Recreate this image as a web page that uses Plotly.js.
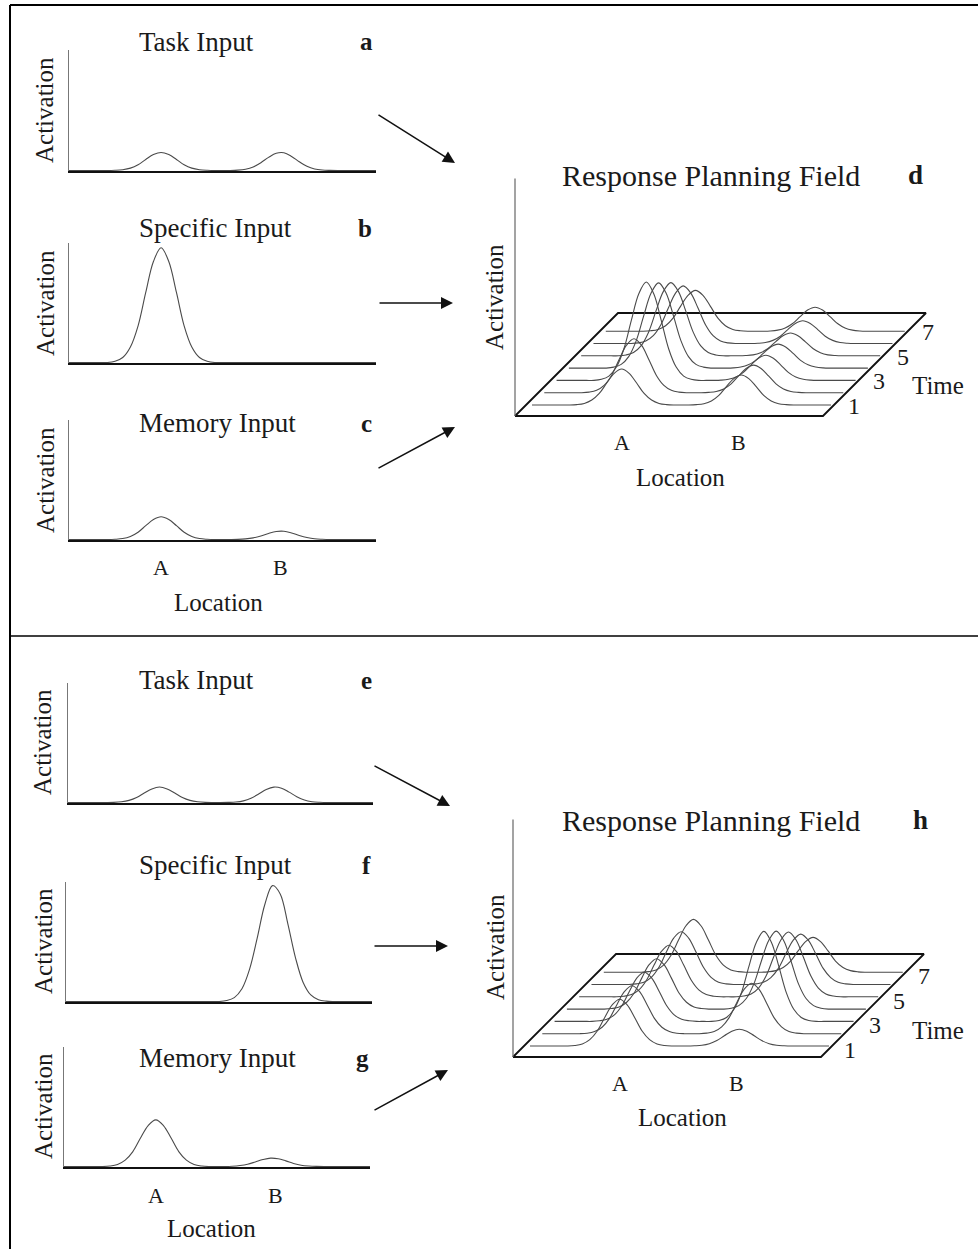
<!DOCTYPE html>
<html>
<head>
<meta charset="utf-8">
<script src="https://cdn.plot.ly/plotly-3.0.1.min.js"></script>
<style>
html,body{margin:0;padding:0;background:#fff;}
#chart{width:978px;height:1249px;}
</style>
</head>
<body>
<div id="chart"></div>
<script>
// ---------------- DATA ----------------
// Location grid (arbitrary units, 0..100, step 2.5) shared by all curves
const LOC = [0,2.5,5,7.5,10,12.5,15,17.5,20,22.5,25,27.5,30,32.5,35,37.5,40,42.5,45,47.5,
             50,52.5,55,57.5,60,62.5,65,67.5,70,72.5,75,77.5,80,82.5,85,87.5,90,92.5,95,97.5,100];
const LOC_TICKS = [30, 69];
const LOC_TICK_TEXT = ['A', 'B'];

// Input curves (activation; 1 = full height of the small axis)
const TASK_TOP = [0,0,0,0,0,0, 0.002,0.007,0.02,0.048,0.092,0.132,0.15,0.132,0.092,0.048,0.02,0.007,0.002, 0,0,0,
                  0.003,0.011,0.03,0.065,0.109,0.143,0.147,0.117,0.073,0.035,0.013,0.004,0.001, 0,0,0,0,0,0];
const SPEC_TOP = [0,0,0,0,0,0, 0.011,0.042,0.13,0.307,0.586,0.845,0.96,0.845,0.586,0.307,0.13,0.042,0.011, 0,0,0,
                  0,0,0,0,0,0,0,0,0,0,0,0,0, 0,0,0,0,0,0];
const MEM_TOP  = [0,0,0,0,0,0, 0.002,0.008,0.026,0.061,0.116,0.167,0.19,0.167,0.116,0.061,0.026,0.008,0.002, 0,0,0,
                  0.001,0.005,0.014,0.03,0.051,0.067,0.069,0.055,0.034,0.017,0.006,0.002,0, 0,0,0,0,0,0];
const TASK_BOT = [0,0,0,0,0,0, 0.001,0.006,0.018,0.042,0.079,0.114,0.13,0.114,0.079,0.042,0.018,0.006,0.001, 0,0,
                  0.001,0.004,0.014,0.036,0.071,0.109,0.129,0.12,0.087,0.049,0.021,0.007,0.002, 0,0,0,0,0,0,0];
const SPEC_BOT = [0,0,0,0,0,0,0,0,0,0,0,0,0,0,0,0,0,0,0,0,0,
                  0.008,0.033,0.107,0.271,0.532,0.814,0.97,0.9,0.65,0.366,0.16,0.055,0.015,0.003, 0,0,0,0,0,0];
const MEM_BOT  = [0,0,0,0,0,0, 0.004,0.017,0.053,0.125,0.238,0.343,0.39,0.343,0.238,0.125,0.053,0.017,0.004, 0,0,0,
                  0.002,0.008,0.019,0.038,0.058,0.07,0.065,0.047,0.026,0.011,0.004,0.001, 0,0,0,0,0,0,0];

// Response planning field, A trial (panel d), time steps 1..7
const TIMES = [1,2,3,4,5,6,7];
const TIME_LABELS = [1,3,5,7];
const FIELD_D_T1 = [0,0,0,0,0,0, .003,.013,.041,.096,.183,.264,.30,.264,.183,.096,.041,.013,.003, 0,0,0,
                    .003,.011,.034,.08,.153,.22,.25,.22,.153,.08,.034,.011,.003, 0,0,0,0,0,0];
const FIELD_D_T2 = [0,0,0,0,0,0, .005,.02,.061,.144,.275,.396,.45,.396,.275,.144,.061,.02,.005, 0,0,0,
                    .003,.01,.031,.074,.14,.202,.23,.202,.14,.074,.031,.01,.003, 0,0,0,0,0,0];
const FIELD_D_T3 = [0,0,0,0,0,0, .009,.036,.111,.262,.5,.722,.82,.722,.5,.262,.111,.036,.009, 0,0,0,
                    .002,.009,.028,.067,.128,.185,.21,.185,.128,.067,.028,.009,.002, 0,0,0,0,0,0];
const FIELD_D_T4 = [0,0,0,0,0,0, .008,.031,.096,.227,.433,.625,.71,.625,.433,.227,.096,.031,.008, 0,0,0,
                    .002,.009,.027,.064,.122,.176,.20,.176,.122,.064,.027,.009,.002, 0,0,0,0,0,0];
const FIELD_D_T5 = [0,0,0,0,0,0, .007,.027,.082,.195,.372,.537,.61,.537,.372,.195,.082,.027,.007, 0,0,0,
                    .002,.008,.026,.061,.116,.167,.19,.167,.116,.061,.026,.008,.002, 0,0,0,0,0,0];
const FIELD_D_T6 = [0,0,0,0,0,0, .005,.021,.065,.154,.293,.422,.48,.422,.293,.154,.065,.021,.005, 0,0,0,
                    .002,.008,.026,.061,.116,.167,.19,.167,.116,.061,.026,.008,.002, 0,0,0,0,0,0];
const FIELD_D_T7 = [0,0,0,0,0,0, .004,.015,.046,.109,.207,.299,.34,.299,.207,.109,.046,.015,.004, 0,0,0,
                    .002,.009,.027,.064,.122,.176,.20,.176,.122,.064,.027,.009,.002, 0,0,0,0,0,0];

// Response planning field, B trial (panel h)
const FIELD_H_T1 = [0,0,0,0,0,0, .004,.017,.053,.125,.238,.343,.39,.343,.238,.125,.053,.017,.004, 0,0,0,
                    .002,.006,.019,.045,.085,.123,.14,.123,.085,.045,.019,.006,.002, 0,0,0,0,0,0];
const FIELD_H_T2 = [0,0,0,0,0,0, .004,.018,.054,.128,.244,.352,.40,.352,.244,.128,.054,.018,.004, 0,0,0,
                    .005,.018,.057,.134,.256,.37,.42,.37,.256,.134,.057,.018,.005, 0,0,0,0,0,0];
const FIELD_H_T3 = [0,0,0,0,0,0, .005,.018,.055,.131,.25,.361,.41,.361,.25,.131,.055,.018,.005, 0,0,0,
                    .008,.033,.101,.24,.458,.66,.75,.66,.458,.24,.101,.033,.008, 0,0,0,0,0,0];
const FIELD_H_T4 = [0,0,0,0,0,0, .005,.018,.057,.134,.256,.37,.42,.37,.256,.134,.057,.018,.005, 0,0,0,
                    .007,.029,.088,.208,.397,.572,.65,.572,.397,.208,.088,.029,.007, 0,0,0,0,0,0];
const FIELD_H_T5 = [0,0,0,0,0,0, .005,.019,.058,.138,.262,.378,.43,.378,.262,.138,.058,.019,.005, 0,0,0,
                    .006,.024,.073,.173,.329,.475,.54,.475,.329,.173,.073,.024,.006, 0,0,0,0,0,0];
const FIELD_H_T6 = [0,0,0,0,0,0, .005,.019,.059,.141,.268,.387,.44,.387,.268,.141,.059,.019,.005, 0,0,0,
                    .005,.018,.057,.134,.256,.37,.42,.37,.256,.134,.057,.018,.005, 0,0,0,0,0,0];
const FIELD_H_T7 = [0,0,0,0,0,0, .005,.019,.059,.141,.268,.387,.44,.387,.268,.141,.059,.019,.005, 0,0,0,
                    .003,.013,.039,.093,.177,.255,.29,.255,.177,.093,.039,.013,.003, 0,0,0,0,0,0];

// ---------------- LAYOUT HELPERS ----------------
const W = 978, H = 1249;
const px = x => x / W;
const py = y => 1 - y / H;
const FONT = '"Liberation Serif", "Times New Roman", serif';
const INK = '#1a1a1a';
const CURVE = '#4a4a4a';

const traces = [];
const annotations = [];
const shapes = [];
const layout = {
  width: W, height: H,
  margin: {l:0, r:0, t:0, b:0},
  paper_bgcolor: '#fff', plot_bgcolor: 'rgba(0,0,0,0)',
  showlegend: false,
  font: {family: FONT, color: INK}
};

function txt(text, x, y, size, extra) {
  return Object.assign({
    text: text, x: px(x), y: py(y), xref: 'paper', yref: 'paper',
    showarrow: false, xanchor: 'center', yanchor: 'middle',
    font: {family: FONT, size: size, color: INK}
  }, extra || {});
}
function arrow(from, to) {
  return {
    text: '', x: px(to[0]), y: py(to[1]), xref: 'paper', yref: 'paper',
    ax: from[0] - to[0], ay: from[1] - to[1], axref: 'pixel', ayref: 'pixel',
    showarrow: true, arrowhead: 2, arrowsize: 1.6, arrowwidth: 1.5, arrowcolor: '#111', standoff: 0
  };
}

// ---------------- LEFT INPUT PANELS ----------------
const LEFT = [
  {title:'Task Input', letter:'a', data:TASK_TOP, xs:[69,376], ys:[50,171], titleY:42, letterXY:[366,42], actXY:[45,110], arr:[[377,114],[455,163]]},
  {title:'Specific Input', letter:'b', data:SPEC_TOP, xs:[69,376], ys:[243,363], titleY:228, letterXY:[365,228], actXY:[45,303], arr:[[378,303],[453,303]]},
  {title:'Memory Input', letter:'c', data:MEM_TOP, xs:[69,376], ys:[420,540], titleY:423, letterXY:[366,423], actXY:[45,480], arr:[[377,469],[455,427]], loc:{y:568, tx:218, ty:602}},
  {title:'Task Input', letter:'e', data:TASK_BOT, xs:[68,373], ys:[683,803], titleY:680, letterXY:[366,680], actXY:[43,742], arr:[[373,765],[450,806]]},
  {title:'Specific Input', letter:'f', data:SPEC_BOT, xs:[66,372], ys:[882,1002], titleY:865, letterXY:[366,865], actXY:[43,941], arr:[[373,946],[448,946]]},
  {title:'Memory Input', letter:'g', data:MEM_BOT, xs:[64,370], ys:[1047,1167], titleY:1058, letterXY:[362,1058], actXY:[43,1106], arr:[[373,1111],[448,1070]], loc:{y:1195, tx:211, ty:1228}}
];

LEFT.forEach((p, i) => {
  const n = i + 1;
  const xa = 'xaxis' + (n === 1 ? '' : n), ya = 'yaxis' + (n === 1 ? '' : n);
  const xr = 'x' + (n === 1 ? '' : n), yr = 'y' + (n === 1 ? '' : n);
  layout[xa] = {domain:[px(p.xs[0]), px(p.xs[1])], range:[0,100], anchor:yr,
    showline:true, linecolor:'#111', linewidth:2, showgrid:false, zeroline:false,
    showticklabels:false, ticks:'', fixedrange:true};
  layout[ya] = {domain:[py(p.ys[1]), py(p.ys[0])], range:[-0.004,1], anchor:xr,
    showline:true, linecolor:'#777', linewidth:1, showgrid:false, zeroline:false,
    showticklabels:false, ticks:'', fixedrange:true};
  traces.push({x:LOC, y:p.data, xaxis:xr, yaxis:yr, type:'scatter', mode:'lines',
    line:{shape:'spline', smoothing:1, color:CURVE, width:1.1}, hoverinfo:'skip'});
  annotations.push(txt(p.title, 137, p.titleY, 27, {xanchor:'left'}));
  annotations.push(txt('<b>' + p.letter + '</b>', p.letterXY[0], p.letterXY[1], 25));
  annotations.push(txt('Activation', p.actXY[0], p.actXY[1], 25, {textangle:-90}));
  annotations.push(arrow(p.arr[0], p.arr[1]));
  if (p.loc) {
    LOC_TICKS.forEach((v, k) => {
      annotations.push({text: LOC_TICK_TEXT[k], x: v, xref: xr, y: py(p.loc.y), yref: 'paper',
        showarrow:false, xanchor:'center', yanchor:'middle', font:{family:FONT, size:22, color:INK}});
    });
    annotations.push(txt('Location', p.loc.tx, p.loc.ty, 25));
  }
});

// ---------------- RESPONSE PLANNING FIELD (oblique projection) ----------------
const PX_PER_LOC = 2.99;     // horizontal pixels per location unit
const PX_PER_ACT = 120;      // vertical pixels per activation unit
const FLOOR_LOC = [-2, 101]; // location extent of the floor
const FIRST_DEPTH = 11, DEPTH_STEP = 12.3, FLOOR_DEPTH = 103;
const AXIS_TOP_ACT = 1.98;
const depthOf = t => FIRST_DEPTH + (t - 1) * DEPTH_STEP;
const proj = (loc, depth, act) => [(loc - FLOOR_LOC[0]) * PX_PER_LOC + depth, depth + act * PX_PER_ACT];

const FIELDS = [
  {letter:'d', lines:[FIELD_D_T1,FIELD_D_T2,FIELD_D_T3,FIELD_D_T4,FIELD_D_T5,FIELD_D_T6,FIELD_D_T7],
   origin:[515,416], dx:[480,978], dy:[150,500], titleY:175, letterXY:[915,175], actXY:[495,297],
   tickY:442, locXY:[680,477], timeXY:[938,385], tShift:[20,-1]},
  {letter:'h', lines:[FIELD_H_T1,FIELD_H_T2,FIELD_H_T3,FIELD_H_T4,FIELD_H_T5,FIELD_H_T6,FIELD_H_T7],
   origin:[513,1057], dx:[480,978], dy:[790,1140], titleY:820, letterXY:[920,820], actXY:[495,947],
   tickY:1083, locXY:[682,1117], timeXY:[938,1030], tShift:[18,-4]}
];

FIELDS.forEach((f, i) => {
  const n = 7 + i;
  const xr = 'x' + n, yr = 'y' + n;
  layout['xaxis' + n] = {domain:[px(f.dx[0]), px(f.dx[1])], range:[f.dx[0]-f.origin[0], f.dx[1]-f.origin[0]],
    anchor:yr, visible:false, fixedrange:true};
  layout['yaxis' + n] = {domain:[py(f.dy[1]), py(f.dy[0])], range:[f.origin[1]-f.dy[1], f.origin[1]-f.dy[0]],
    anchor:xr, visible:false, fixedrange:true};
  // floor parallelogram
  const c = [proj(FLOOR_LOC[0],0,0), proj(FLOOR_LOC[1],0,0), proj(FLOOR_LOC[1],FLOOR_DEPTH,0),
             proj(FLOOR_LOC[0],FLOOR_DEPTH,0), proj(FLOOR_LOC[0],0,0)];
  traces.push({x:c.map(p=>p[0]), y:c.map(p=>p[1]), xaxis:xr, yaxis:yr, type:'scatter', mode:'lines',
    line:{color:'#111', width:1.8}, hoverinfo:'skip'});
  // vertical activation axis
  const v0 = proj(FLOOR_LOC[0],0,0), v1 = proj(FLOOR_LOC[0],0,AXIS_TOP_ACT);
  traces.push({x:[v0[0],v1[0]], y:[v0[1],v1[1]], xaxis:xr, yaxis:yr, type:'scatter', mode:'lines',
    line:{color:'#666', width:1.2}, hoverinfo:'skip'});
  // time slices
  f.lines.forEach((vals, k) => {
    const d = depthOf(TIMES[k]);
    const pts = LOC.map((l, j) => proj(l, d, vals[j]));
    traces.push({x:pts.map(p=>p[0]), y:pts.map(p=>p[1]), xaxis:xr, yaxis:yr, type:'scatter', mode:'lines',
      line:{shape:'spline', smoothing:1, color:CURVE, width:1.1}, hoverinfo:'skip'});
  });
  // labels
  annotations.push(txt('Response Planning Field', 560, f.titleY, 30, {xanchor:'left'}));
  annotations.push(txt('<b>' + f.letter + '</b>', f.letterXY[0], f.letterXY[1], 27));
  annotations.push(txt('Activation', f.actXY[0], f.actXY[1], 25, {textangle:-90}));
  LOC_TICKS.forEach((v, k) => {
    const p = proj(v, depthOf(1), 0);
    annotations.push({text: LOC_TICK_TEXT[k], x: p[0], xref: xr, y: py(f.tickY), yref:'paper',
      showarrow:false, xanchor:'center', yanchor:'middle', font:{family:FONT, size:22, color:INK}});
  });
  annotations.push(txt('Location', f.locXY[0], f.locXY[1], 25));
  TIME_LABELS.forEach(t => {
    const p = proj(FLOOR_LOC[1], depthOf(t), 0);
    annotations.push({text: String(t), x: p[0], y: p[1], xref: xr, yref: yr, xshift: f.tShift[0], yshift: f.tShift[1],
      showarrow:false, xanchor:'center', yanchor:'middle', font:{family:FONT, size:24, color:INK}});
  });
  annotations.push(txt('Time', f.timeXY[0], f.timeXY[1], 25));
});

// ---------------- FRAME ----------------
shapes.push({type:'line', xref:'paper', yref:'paper', x0:px(10), x1:1, y0:py(5), y1:py(5), line:{color:'#000', width:2}});
shapes.push({type:'line', xref:'paper', yref:'paper', x0:px(10), x1:px(10), y0:py(5), y1:0, line:{color:'#000', width:2}});
shapes.push({type:'line', xref:'paper', yref:'paper', x0:px(10), x1:1, y0:py(636), y1:py(636), line:{color:'#000', width:1.5}});

layout.annotations = annotations;
layout.shapes = shapes;

Plotly.newPlot('chart', traces, layout, {staticPlot:true, displayModeBar:false});
</script>
</body>
</html>
